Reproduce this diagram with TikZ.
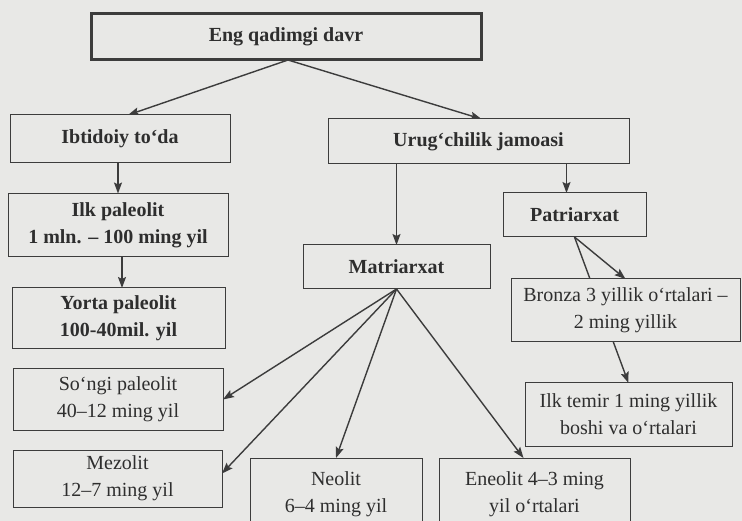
\documentclass[tikz,border=0pt]{standalone}
\usepackage{fontspec}
\setmainfont{Liberation Serif}
\usetikzlibrary{arrows.meta}
\definecolor{paper}{HTML}{E8E8E6}
\definecolor{ink}{HTML}{2E2E2E}
\definecolor{edge}{HTML}{3C3C3C}
\pgfdeclarelayer{bgl}
\pgfdeclarelayer{edges}
\pgfsetlayers{bgl,edges,main}
\begin{document}
\begin{tikzpicture}[x=1pt,y=-1pt,
  box/.style={draw=edge, line width=1pt, fill=paper, text=ink, inner sep=0pt, outer sep=0pt,
    align=center, font=\fontsize{20}{27}\selectfont},
  bbox/.style={box, font=\fontsize{20}{27}\selectfont\bfseries},
  conn/.style={draw=edge, line width=1.4pt, -{Stealth[length=11pt,width=8pt,inset=2pt]}}]
\useasboundingbox (0,0) rectangle (742,521);
\begin{pgfonlayer}{bgl}
  \fill[paper] (0,0) rectangle (742,521);
\end{pgfonlayer}
% nodes
\node[bbox, line width=3pt, minimum width=390pt, minimum height=46pt] (top) at (286,37) {Eng qadimgi davr};
\node[bbox, minimum width=220pt, minimum height=48pt] (ibt) at (120,139) {Ibtidoiy to‘da};
\node[bbox, minimum width=301pt, minimum height=45pt] (urug) at (478.5,141.5) {Urug‘chilik jamoasi};
\node[bbox, minimum width=220pt, minimum height=63pt] (ilk) at (118,225) {Ilk paleolit\\1 mln. – 100 ming yil};
\node[bbox, minimum width=213pt, minimum height=61pt] (yorta) at (118.5,318.5) {Yorta paleolit\\100-40mil. yil};
\node[bbox, minimum width=187pt, minimum height=44pt] (matri) at (396.5,267) {Matriarxat};
\node[bbox, minimum width=143pt, minimum height=44pt] (patri) at (574.5,215) {Patriarxat};
\node[box, minimum width=229pt, minimum height=63pt] (bronza) at (625.5,310.5) {Bronza 3 yillik o‘rtalari –\\2 ming yillik};
\node[box, minimum width=207pt, minimum height=63pt] (temir) at (628.5,414.5) {Ilk temir 1 ming yillik\\boshi va o‘rtalari};
\node[box, minimum width=210pt, minimum height=61pt] (songi) at (118,399.5) {So‘ngi paleolit\\40–12 ming yil};
\node[box, minimum width=209pt, minimum height=57pt] (mezo) at (117.5,478.5) {Mezolit\\12–7 ming yil};
\node[box, minimum width=172pt, minimum height=72pt] (neo) at (336,494) {Neolit\\6–4 ming yil};
\node[box, minimum width=191pt, minimum height=72pt] (eneo) at (534.5,494) {Eneolit 4–3 ming\\yil o‘rtalari};
% connectors
\begin{pgfonlayer}{edges}
\draw[conn] ([xshift=2pt]top.south) -- ([xshift=8pt]ibt.north);
\draw[conn] ([xshift=2pt]top.south) -- ([xshift=3pt]urug.north);
\draw[conn] (ibt.south -| ilk.north) -- (ilk.north);
\draw[conn] ([xshift=4pt]ilk.south) -- ([xshift=4pt]ilk.south |- yorta.north);
\draw[conn] (matri.north |- urug.south) -- (matri.north);
\draw[conn] ([xshift=-8pt]patri.north |- urug.south) -- ([xshift=-8pt]patri.north);
\draw[conn] (patri.south) -- (bronza.north);
\draw[conn] (patri.south) -- (temir.north);
\draw[conn] (matri.south) -- (songi.east);
\draw[conn] (matri.south) -- ([yshift=5pt]mezo.east);
\draw[conn] (matri.south) -- (neo.north);
\draw[conn] (matri.south) -- ([xshift=-11pt]eneo.north);
\end{pgfonlayer}
\end{tikzpicture}
\end{document}
